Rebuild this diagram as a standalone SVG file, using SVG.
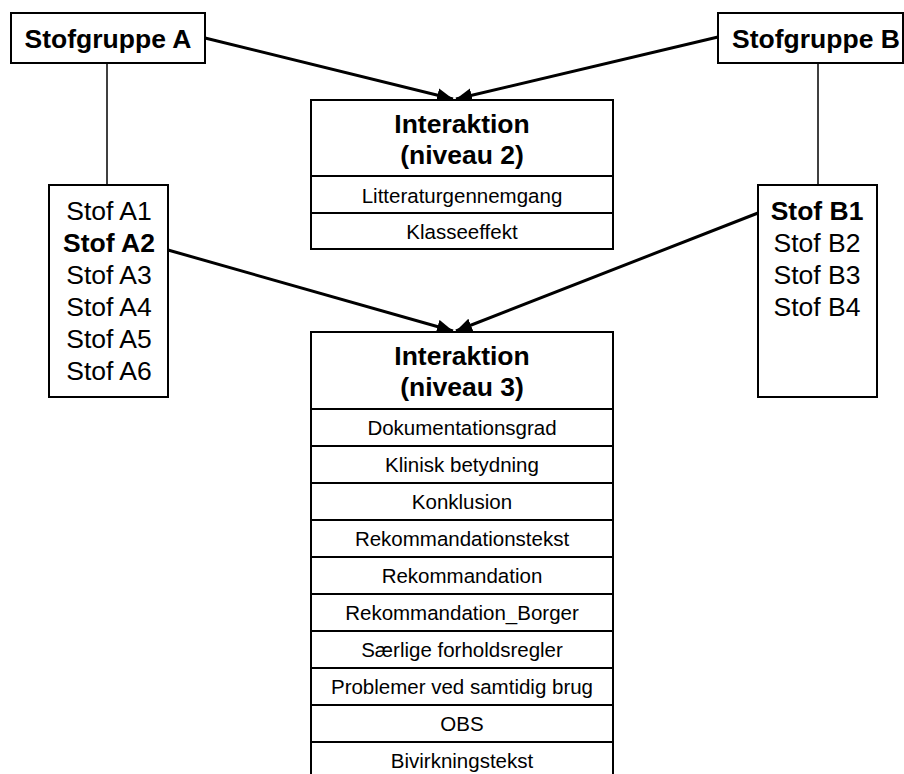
<svg xmlns="http://www.w3.org/2000/svg" width="904" height="774" viewBox="0 0 904 774">
<defs>
<style>
.box{fill:#fff;stroke:#000;stroke-width:2}
.div{stroke:#000;stroke-width:2}
.thin{stroke:#000;stroke-width:1.5;fill:none}
.arr{stroke:#000;stroke-width:3;fill:none;marker-end:url(#ah)}
text{font-family:"Liberation Sans",Arial,sans-serif;fill:#000;text-anchor:middle}
.big{font-size:26.5px}
.b{font-weight:bold}
.row{font-size:20.5px}
</style>
<marker id="ah" markerUnits="userSpaceOnUse" markerWidth="17" markerHeight="15" refX="16" refY="7" orient="auto">
<path d="M0,0 L16,7 L0,14 z" fill="#000"/>
</marker>
</defs>
<rect width="904" height="774" fill="#fff"/>

<g id="connectors">
<line class="thin" x1="107" y1="63" x2="107" y2="185"/>
<line class="thin" x1="818" y1="63" x2="818" y2="185"/>
<line class="arr" x1="205" y1="38" x2="453" y2="99"/>
<line class="arr" x1="718" y1="37" x2="456" y2="99"/>
<line class="arr" x1="168" y1="250" x2="453" y2="331"/>
<line class="arr" x1="758" y1="213" x2="456" y2="331"/>
</g>

<g id="stofgruppe-a">
<rect class="box" x="11" y="13" width="194" height="50"/>
<text class="big b" x="108" y="48">Stofgruppe A</text>
</g>

<g id="stofgruppe-b">
<rect class="box" x="718" y="13" width="185" height="50"/>
<text class="big b" x="816" y="48">Stofgruppe B</text>
</g>

<g id="stof-a">
<rect class="box" x="49" y="185" width="119" height="212"/>
<text class="big" x="109" y="220">Stof A1</text>
<text class="big b" x="109" y="252">Stof A2</text>
<text class="big" x="109" y="284">Stof A3</text>
<text class="big" x="109" y="316">Stof A4</text>
<text class="big" x="109" y="348">Stof A5</text>
<text class="big" x="109" y="380">Stof A6</text>
</g>

<g id="stof-b">
<rect class="box" x="758" y="185" width="119" height="212"/>
<text class="big b" x="817" y="220">Stof B1</text>
<text class="big" x="817" y="252">Stof B2</text>
<text class="big" x="817" y="284">Stof B3</text>
<text class="big" x="817" y="316">Stof B4</text>
</g>

<g id="interaktion-2">
<rect class="box" x="311" y="100" width="302" height="149"/>
<text class="big b" x="462" y="133">Interaktion</text>
<text class="big b" x="462" y="164">(niveau 2)</text>
<line class="div" x1="311" y1="176" x2="613" y2="176"/>
<text class="row" x="462" y="203">Litteraturgennemgang</text>
<line class="div" x1="311" y1="213" x2="613" y2="213"/>
<text class="row" x="462" y="239">Klasseeffekt</text>
</g>

<g id="interaktion-3">
<rect class="box" x="311" y="332" width="302" height="460"/>
<text class="big b" x="462" y="365">Interaktion</text>
<text class="big b" x="462" y="396">(niveau 3)</text>
<line class="div" x1="311" y1="409" x2="613" y2="409"/>
<text class="row" x="462" y="435">Dokumentationsgrad</text>
<line class="div" x1="311" y1="446" x2="613" y2="446"/>
<text class="row" x="462" y="472">Klinisk betydning</text>
<line class="div" x1="311" y1="483" x2="613" y2="483"/>
<text class="row" x="462" y="509">Konklusion</text>
<line class="div" x1="311" y1="520" x2="613" y2="520"/>
<text class="row" x="462" y="546">Rekommandationstekst</text>
<line class="div" x1="311" y1="557" x2="613" y2="557"/>
<text class="row" x="462" y="583">Rekommandation</text>
<line class="div" x1="311" y1="594" x2="613" y2="594"/>
<text class="row" x="462" y="620">Rekommandation_Borger</text>
<line class="div" x1="311" y1="631" x2="613" y2="631"/>
<text class="row" x="462" y="657">Særlige forholdsregler</text>
<line class="div" x1="311" y1="668" x2="613" y2="668"/>
<text class="row" x="462" y="694">Problemer ved samtidig brug</text>
<line class="div" x1="311" y1="705" x2="613" y2="705"/>
<text class="row" x="462" y="731">OBS</text>
<line class="div" x1="311" y1="742" x2="613" y2="742"/>
<text class="row" x="462" y="768">Bivirkningstekst</text>
</g>
</svg>
